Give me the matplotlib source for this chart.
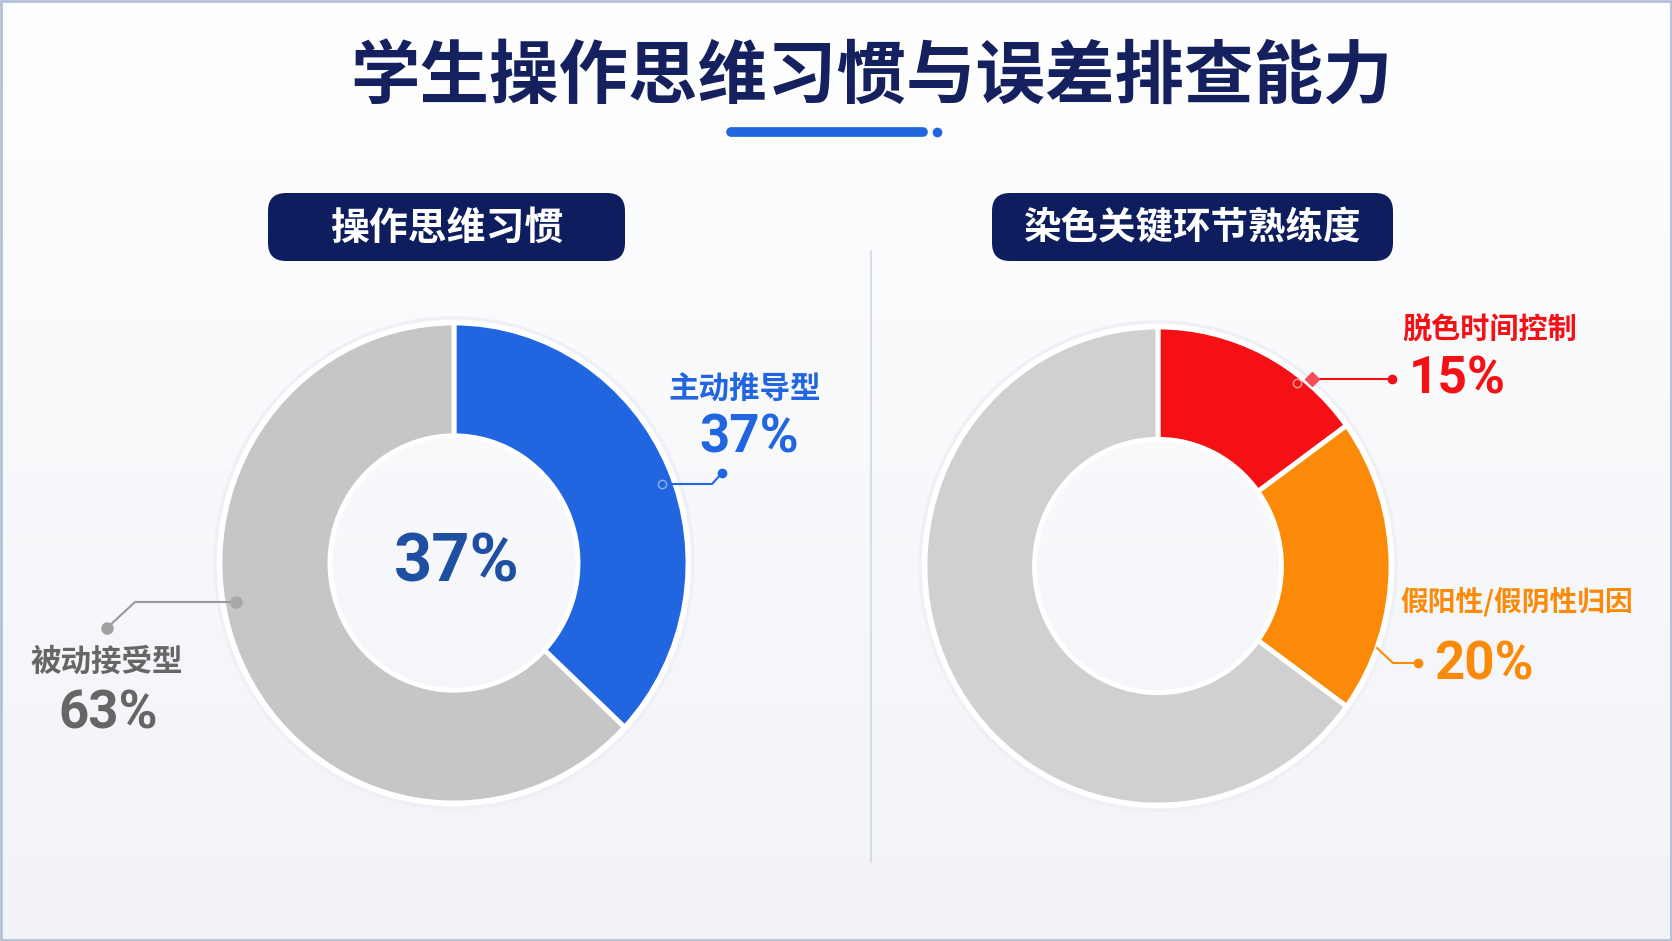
import numpy as np
import matplotlib
matplotlib.use("Agg")
import matplotlib.pyplot as plt
from matplotlib.patches import FancyBboxPatch, Rectangle

# data
title = "学生操作思维习惯与误差排查能力"
left_title = "操作思维习惯"
right_title = "染色关键环节熟练度"

left_labels = ["主动推导型", "被动接受型"]
left_values = [37, 63]
left_colors = ["#2166E0", "#C6C6C6"]

right_labels = ["脱色时间控制", "假阳性/假阴性归因", "其他"]
right_values = [15, 20, 65]
right_colors = ["#F41014", "#FB8A08", "#D0D0D0"]

CJK = ["Noto Sans CJK SC", "DejaVu Sans"]
NUM = ["Roboto", "DejaVu Sans"]

W, H = 1672, 941
fig = plt.figure(figsize=(W / 100, H / 100), dpi=100)

# background layer, pixel coords
bg = fig.add_axes([0, 0, 1, 1])
bg.set_xlim(0, W)
bg.set_ylim(H, 0)
bg.axis("off")
grad = np.linspace(0, 1, 200).reshape(-1, 1)
cmap = matplotlib.colors.LinearSegmentedColormap.from_list("bgc", ["#ffffff", "#f1f3f8"])
bg.imshow(grad, extent=[0, W, H, 0], aspect="auto", cmap=cmap, zorder=0)
bg.add_patch(Rectangle((1, 1), W - 2, H - 2, fill=False, ec="#b4c0d6", lw=2, zorder=1))

# title + underline
bg.text(872, 78, title, ha="center", va="center", fontsize=50, fontweight="heavy",
        color="#14215e", family=CJK, zorder=3)
bg.plot([731, 923], [132, 132], color="#2266dd", lw=7, solid_capstyle="round", zorder=3)
bg.plot([937], [132], "o", color="#2266dd", ms=6, zorder=3)

# divider
bg.plot([871, 871], [251, 862], color="#d3d7df", lw=1.2, zorder=2)

# header boxes
for (x0, x1, txt, fs) in [(268, 625, left_title, 28), (992, 1393, right_title, 27)]:
    bg.add_patch(FancyBboxPatch((x0, 193), x1 - x0, 68, boxstyle="round,pad=0,rounding_size=18",
                                fc="#0d1d5e", ec="none", zorder=3))
    bg.text((x0 + x1) / 2, 228, txt, ha="center", va="center", fontsize=fs, fontweight="bold",
            color="white", family=CJK, zorder=4)


def donut(cx, cy, rx, ry, values, colors):
    ax = fig.add_axes([(cx - rx) / W, (H - cy - ry) / H, 2 * rx / W, 2 * ry / H])
    # faint shadow + white rim
    ax.pie([1], radius=1.028, colors=["#eef0f5"], wedgeprops=dict(width=0.05, ec="none"))
    ax.pie([1], radius=1.014, colors=["#ffffff"], wedgeprops=dict(width=0.03, ec="none"))
    ax.pie(values, colors=colors, startangle=90, counterclock=False, radius=1,
           wedgeprops=dict(width=0.47, edgecolor="white", linewidth=3.5))
    ax.set_aspect("auto")
    ax.set_xlim(-1.03, 1.03)
    ax.set_ylim(-1.03, 1.03)
    ax.axis("off")
    return ax


donut(454, 563, 234 * 1.03, 240 * 1.03, left_values, left_colors)
donut(1158, 566, 233 * 1.03, 239 * 1.03, right_values, right_colors)

# overlay for labels and leader lines
ov = fig.add_axes([0, 0, 1, 1], facecolor="none")
ov.set_xlim(0, W)
ov.set_ylim(H, 0)
ov.axis("off")

ov.text(457, 564, f"{left_values[0]}%", ha="center", va="center", fontsize=48,
        fontweight="bold", color="#1f4fa0", family=NUM)

# blue label
ov.plot([662, 712, 722], [484, 484, 473], color="#2166E0", lw=1.5)
ov.plot([722], [473], "o", color="#2166E0", ms=6)
ov.plot([662], [484], "o", mfc="none", mec="#8fb0ee", ms=6, mew=1)
ov.text(745, 390, left_labels[0], ha="center", va="center", fontsize=22, fontweight="bold",
        color="#2166E0", family=CJK)
ov.text(749, 438, f"{left_values[0]}%", ha="center", va="center", fontsize=38,
        fontweight="bold", color="#2166E0", family=NUM)

# gray label
ov.plot([236, 135, 107], [602, 602, 628], color="#9a9a9a", lw=1.5)
ov.plot([236], [602], "o", color="#a8a8a8", ms=8)
ov.plot([107], [628], "o", color="#a0a0a0", ms=8)
ov.text(107, 662, left_labels[1], ha="center", va="center", fontsize=22, fontweight="bold",
        color="#666666", family=CJK)
ov.text(108, 714, f"{left_values[1]}%", ha="center", va="center", fontsize=38,
        fontweight="bold", color="#666666", family=NUM)

# red label
ov.plot([1312, 1392], [379, 379], color="#F41014", lw=1.5)
ov.plot([1312], [379], "D", color="#F25055", ms=7)
ov.plot([1392], [379], "o", color="#F41014", ms=6)
ov.plot([1297], [383], "o", mfc="none", mec="#f7a0a0", ms=6, mew=1)
ov.text(1490, 330, right_labels[0], ha="center", va="center", fontsize=21, fontweight="bold",
        color="#F41014", family=CJK)
ov.text(1457, 380, f"{right_values[0]}%", ha="center", va="center", fontsize=37,
        fontweight="bold", color="#F41014", family=NUM)

# orange label
ov.plot([1377, 1393, 1418], [648, 663, 663], color="#FB8A08", lw=1.5)
ov.plot([1418], [663], "o", color="#FB8A08", ms=6)
ov.text(1517, 602, right_labels[1], ha="center", va="center", fontsize=20, fontweight="bold",
        color="#FB8A08", family=CJK)
ov.text(1484, 665, f"{right_values[1]}%", ha="center", va="center", fontsize=38,
        fontweight="bold", color="#FB8A08", family=NUM)

fig.savefig("out.png", dpi=100)
